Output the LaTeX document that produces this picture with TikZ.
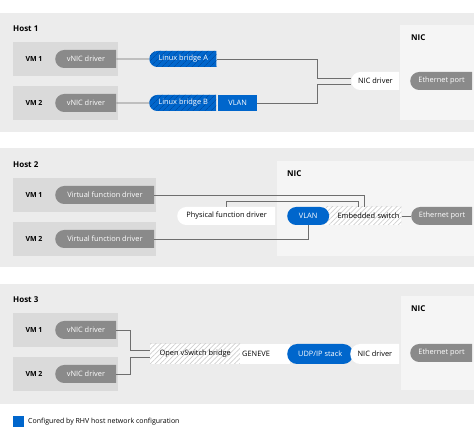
\documentclass[tikz,border=0pt]{standalone}
\usepackage{fontspec}
\setmainfont{Open Sans}
\usetikzlibrary{shapes.misc,patterns.meta}
\definecolor{rhblue}{HTML}{0066CC}
\definecolor{hatchblue}{HTML}{0050A8}
\definecolor{panelgray}{HTML}{ECECEC}
\definecolor{vmgray}{HTML}{DADADA}
\definecolor{nicgray}{HTML}{F5F5F5}
\definecolor{drvgray}{HTML}{8A8A8A}
\definecolor{wiregray}{HTML}{6E6E6E}
\definecolor{hatchgray}{HTML}{D0D0D0}

\begin{document}
\begin{tikzpicture}[x=1pt,y=-1pt,
  title/.style={anchor=west,inner sep=0pt,font=\bfseries\fontsize{8}{9}\selectfont},
  vmbox/.style={anchor=west,fill=vmgray,minimum height=34pt,inner sep=0pt},
  vmtext/.style={inner sep=0pt,font=\bfseries\fontsize{7}{8}\selectfont},
  box/.style={anchor=west,minimum height=18pt,inner xsep=1pt,inner ysep=0pt,font=\fontsize{7.4}{8}\selectfont},
  driver/.style={box,rounded rectangle,rounded rectangle right arc=none,fill=drvgray,text=white},
  whitebox/.style={box,rounded rectangle,rounded rectangle right arc=none,fill=white},
  bluebox/.style={box,fill=rhblue,text=white},
  bridge/.style={box,rounded rectangle,rounded rectangle right arc=none,text=white,
    preaction={fill=rhblue},pattern={Lines[angle=45,distance=4pt,line width=0.7pt]},pattern color=hatchblue},
  switch/.style={box,preaction={fill=white},pattern={Lines[angle=45,distance=3.5pt,line width=0.7pt]},pattern color=hatchgray},
  wire/.style={draw=wiregray,line width=0.8pt}]

\useasboundingbox[fill=white] (0,0) rectangle (474,435);

% Host 1
\fill[panelgray] (0,13) rectangle (474,132);
\node (host1) at (13,29)[title] {Host 1};
\fill[nicgray] (400,25) rectangle (474,120);
\node (nic1) at (411,38)[title] {NIC};
\node (h1vm1) at (13,59)[vmbox,minimum width=105pt] {};
\node (h1vm1t) at (34,59)[vmtext] {VM 1};
\node (h1drv1) at (55,59)[driver,minimum width=63pt] {vNIC driver};
\node (h1vm2) at (13,103)[vmbox,minimum width=105pt] {};
\node (h1vm2t) at (34,103)[vmtext] {VM 2};
\node (h1drv2) at (55,103)[driver,minimum width=63pt] {vNIC driver};
\node (h1bra) at (149,59)[bridge,minimum height=16pt,minimum width=69pt] {Linux bridge A};
\node (h1brb) at (149,103)[bridge,minimum height=16pt,minimum width=69pt] {Linux bridge B};
\node (h1vlan) at (218,103)[bluebox,minimum height=16pt,minimum width=39pt] {VLAN};
\node (h1nicdrv) at (351,81)[whitebox,minimum width=50pt] {NIC driver};
\node (h1eth) at (410,81)[driver,minimum width=64pt] {Ethernet port};
\coordinate (h1j1) at (317,78);
\coordinate (h1j2) at (317,84);
\draw [wire] (h1drv1) -- (h1bra);
\draw [wire] (h1drv2) -- (h1brb);
\draw [wire] (h1bra.east) -| (h1j1) -- (h1j1 -| h1nicdrv.west);
\draw [wire] (h1vlan.east) -| (h1j2) -- (h1j2 -| h1nicdrv.west);

% Host 2
\fill[panelgray] (0,148) rectangle (474,267);
\node (host2) at (13,165)[title] {Host 2};
\fill[nicgray] (277,161) rectangle (474,256);
\node (nic2) at (287,174)[title] {NIC};
\node (h2vm1) at (13,195)[vmbox,minimum width=143pt] {};
\node (h2vm1t) at (34,195)[vmtext] {VM 1};
\node (h2drv1) at (55,195)[driver,minimum width=101pt] {Virtual function driver};
\node (h2vm2) at (13,239)[vmbox,minimum width=143pt] {};
\node (h2vm2t) at (34,239)[vmtext] {VM 2};
\node (h2drv2) at (55,239)[driver,minimum width=101pt] {Virtual function driver};
\node (h2pf) at (177,216)[whitebox,minimum width=100pt] {Physical function driver};
\node (h2esw) at (325,216)[switch,minimum width=76pt,text width=72pt,align=right] {Embedded switch};
\node (h2vlan) at (287,216)[bluebox,rounded rectangle,minimum width=44pt] {VLAN};
\node (h2eth) at (411,216)[driver,minimum width=63pt] {Ethernet port};
\coordinate (h2j1) at (364,195);
\coordinate (h2j2) at (358,201);
\draw [wire] (h2drv1.east) -- (h2j1) -- (h2j1 |- h2esw.north);
\draw [wire] (h2pf.north) |- (h2j2) -- (h2j2 |- h2esw.north);
\draw [wire] (h2drv2.east) -| (h2vlan.south);
\draw [wire] (h2esw) -- (h2eth);

% Host 3
\fill[panelgray] (0,284) rectangle (474,404);
\node (host3) at (13,300)[title] {Host 3};
\fill[nicgray] (401,296) rectangle (474,390);
\node (nic3) at (411,309)[title] {NIC};
\node (h3vm1) at (13,330)[vmbox,minimum width=105pt] {};
\node (h3vm1t) at (34,330)[vmtext] {VM 1};
\node (h3drv1) at (55,330)[driver,minimum width=63pt] {vNIC driver};
\node (h3vm2) at (13,374)[vmbox,minimum width=105pt] {};
\node (h3vm2t) at (34,374)[vmtext] {VM 2};
\node (h3drv2) at (55,374)[driver,minimum width=63pt] {vNIC driver};
\node (h3ovs) at (150,354)[switch,minimum width=90pt,minimum height=20pt] {Open vSwitch bridge};
\node (h3gen) at (240,354)[box,fill=white,minimum width=50pt,minimum height=20pt,text width=46pt,align=left] {GENEVE};
\node (h3udp) at (287,354)[bluebox,rounded rectangle,minimum width=68pt,minimum height=20pt] {UDP/IP stack};
\node (h3nicdrv) at (350,354)[whitebox,minimum width=51pt,minimum height=20pt] {NIC driver};
\node (h3eth) at (410,353)[driver,minimum width=64pt] {Ethernet port};
\coordinate (h3j1) at (130,350);
\coordinate (h3j2) at (130,357);
\draw [wire] (h3drv1.east) -| (h3j1) -- (h3j1 -| h3ovs.west);
\draw [wire] (h3drv2.east) -| (h3j2) -- (h3j2 -| h3ovs.west);

% legend
\node (key) at (18,421.5)[fill=rhblue,minimum size=11pt,inner sep=0pt] {};
\node (keyt) at (28,421.5)[anchor=west,inner sep=0pt,font=\fontsize{7}{8}\selectfont] {Configured by RHV host network configuration};
\end{tikzpicture}
\end{document}
